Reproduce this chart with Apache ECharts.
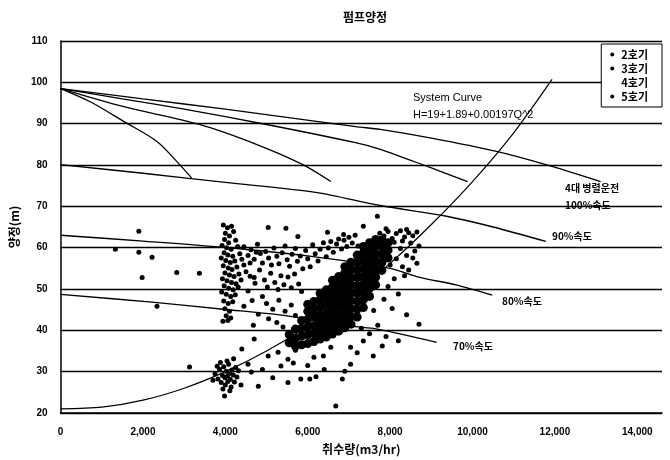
<!DOCTYPE html>
<html><head><meta charset="utf-8">
<script src="https://cdn.jsdelivr.net/npm/echarts@6/dist/echarts.min.js"></script>
<style>html,body{margin:0;padding:0;background:#fff}#c{width:670px;height:460px}</style>
</head><body><div id="c"></div>
<script>
// ---- data ----
const title = '펌프양정';
const xName = '취수량(m3/hr)';
const yName = '양정(m)';
const xTicks = [0,2000,4000,6000,8000,10000,12000,14000];
const yTicks = [20,30,40,50,60,70,80,90,100,110];
const legendNames = ['2호기','3호기','4호기','5호기'];

const pump1 = [[0,98.5],[720,95.3],[1540,90.5],[2340,85.7],[2890,80.1],[3180,76.9]];
const pump2 = [[0,98.5],[1540,94.1],[3370,89.8],[4750,85.0],[5880,80.1],[6560,76.0]];
const pump3 = [[0,98.5],[1500,96.0],[3000,93.5],[5000,89.8],[7160,85.4],[7760,83.8],[8970,79.4],[9880,76.0]];
const pump4 = [[0,98.5],[2000,96.0],[4000,93.5],[7160,89.3],[7760,88.6],[9000,86.5],[10580,83.3],[11780,80.1],[13110,76.0]];
const speed90 = [[0,80.1],[2000,78.0],[4000,75.8],[6190,73.4],[7760,70.2],[9370,67.6],[10500,65.0],[11780,61.5]];
const speed80 = [[0,63.0],[2000,61.6],[3950,60.1],[6000,58.0],[8000,55.0],[8720,52.8],[9600,51.0],[10480,48.5]];
const speed70 = [[0,48.7],[2220,46.8],[3950,45.1],[5500,43.5],[7040,41.0],[7690,40.3],[9130,37.1]];
const systemCurve = [[0,21.0],[1000,21.4],[2000,23.1],[3000,26.0],[4000,30.0],[5000,35.0],[6000,41.0],[7000,48.0],[8000,56.2],[9000,65.6],[10000,76.0],[11000,87.8],[11930,100.7]];

const pts2 = [
[3950,65.5],[4050,64.8],[4150,65.2],[4000,63.5],[4100,62.8],[4200,63.9],[3980,62],[4080,61.2],[4250,61.8],[3920,60.5],[4030,60],[4140,59.6],[4300,60.3],[3970,58.8],[4060,58.2],[4180,57.9],[4350,58.5],[3900,57.5],[4010,56.9],[4120,56.4],[4230,56.8],[4400,57.2],[3950,55.6],[4070,55.1],[4160,54.7],[4280,55.3],[4450,55.8],[3990,53.9],[4100,53.4],[4210,53],[4330,53.6],[3930,52.5],[4040,52],[4150,51.6],[4260,51.3],[4380,52.2],[3970,50.8],[4080,50.2],[4190,49.8],[4310,50.5],[3910,49.3],[4020,48.7],[4130,48.2],[4240,48.6],[3960,47.1],[4070,46.5],[4180,46.9],[3990,45.2],[4100,44.6],[4020,43.5],[4130,43],[3940,42.2],[4060,42.4],[4500,54.2],[4600,56.3],[4700,52.8],[4550,49.5],[4650,47.2],[4450,45.8],[4750,58.9],
[3750,29.5],[3820,28.2],[3860,30.6],[3900,27.4],[3930,29.1],[3960,31.2],[3990,28.5],[4000,26.8],[4020,30.1],[4050,28.9],[4060,27.6],[4080,31.8],[4100,29.6],[4120,28.1],[4140,26.3],[4160,30.4],[4190,29.2],[4220,27.5],[4250,31],[4280,28.7],[3880,32.2],[4040,32.6],[3940,25.8],[4110,25.4],[4320,30.2],[3800,31.3],[4200,33.1],[3700,27.9],[4380,26.8],[3980,24.1],
[1330,59.6],[1900,64],[1900,58.9],[2220,57.7],[1980,52.8],[2820,54],[3370,53.8],[2340,45.8],[3130,31.1]
];
const pts3 = [
[4450,60.2],[4550,58.1],[4620,59.5],[4700,57.2],[4780,60.8],[4850,58.6],[4900,56.3],[4980,59.1],[5050,57.5],[5120,55.8],[5180,59.9],[5250,57.9],[5300,56.1],[5380,58.8],[5450,60.4],[5500,57.1],[5560,55.5],[5620,58.4],[5700,59.8],[5750,56.7],[5820,58],[5880,54.9],[5950,59.3],[6000,57.3],[6060,55.4],[6120,60.7],[6180,58.5],[6250,56.8],[6300,59.6],[6380,61.2],[6450,57.8],[6500,59.9],[6560,61.5],[6620,58.9],[6700,60.9],[6750,62.1],[6820,59.7],[6880,61.8],[6950,60.3],[7000,62.5],[7080,61.1],[7150,63],[7220,60.4],[4600,53.1],[4720,51.4],[4830,54.6],[4950,52.2],[5020,50.5],[5100,53.8],[5200,51.6],[5280,49.9],[5350,53.2],[5420,51],[5520,52.9],[5600,50.3],[5680,53.6],[5780,51.2],[5850,49.4],[4900,48.2],[5000,46.5],[5150,45.1],[5300,47.3],[5450,44.6],[5600,46.1],[4800,43.9],[5050,42.8],[5250,41.9],[4680,41.2],[5700,43.6],[5400,40.8],
[5040,64.9],[5470,64.7],[5760,62.7],[6480,63.7],[6870,63.2],[7350,65.2],[7690,67.6],
[4700,37.9],[5280,34.7],[5350,31.4],[5520,33],[5650,32.1],[5830,28.2],[6050,28.2],[6150,33.5],[6380,33.8],[6560,35.9],[6840,28.2],[7040,31.8],[7040,35.9],[7350,37.4],[7590,33.8],[7810,36.2],[6680,21.7],[4630,29.9],[4800,26.5],[5520,27.4],[5040,33.8],[6200,28.8],[6400,30.5],[6000,31.5],[5700,35.2],[5900,36.5],[7200,34.6],[7500,39.2],[7900,38.5],[8200,37.5],[7700,41.2],[4900,30.5],[5150,28.5],[6900,30.1],[4400,35.5],[4550,31.8],
[7750,63.5],[7850,62.8],[7950,63.9],[8050,62.2],[8150,63.4],[8250,64.1],[8350,62.6],[8450,63.6],[8550,62.9],[8650,63.8],[8100,61.3],[8300,61.6],[8500,61.1],[7900,64.6],[8400,64.4],
[8250,59.8],[8400,58.1],[8550,57.5],[8650,56.2],[8300,55.4],[8600,59.2],[8150,57.3],[8450,54.6],[8000,55.8],[8700,60.4],[8350,53.2],[8100,52.5],[7950,50.6],[8200,48.8],[7850,47.5],[8050,45.3],[8400,43.8],[7600,44.8],[7300,40.5],[8700,41.5]
];
const pts5 = [
[5550,37],[5550,39],
[5700,36.2],[5700,38.1],[5700,40.3],
[5850,36.5],[5850,38.6],[5850,40.5],[5850,42.4],
[6000,36.8],[6000,38.9],[6000,40.8],[6000,42.7],[6000,44.6],[6000,46.3],
[6150,37.3],[6150,39.2],[6150,41.1],[6150,43.2],[6150,45.1],[6150,47.0],
[6300,37.9],[6300,39.8],[6300,41.7],[6300,43.6],[6300,45.5],[6300,47.4],[6300,49.0],
[6450,38.4],[6450,40.3],[6450,42.2],[6450,44.1],[6450,46.0],[6450,47.9],[6450,49.8],
[6600,39.1],[6600,41.0],[6600,42.9],[6600,44.8],[6600,46.7],[6600,48.6],[6600,50.5],[6600,52.1],
[6750,39.8],[6750,41.7],[6750,43.6],[6750,45.5],[6750,47.4],[6750,49.3],[6750,51.2],[6750,53.0],
[6900,40.6],[6900,42.5],[6900,44.4],[6900,46.3],[6900,48.2],[6900,50.1],[6900,52.0],[6900,53.9],[6900,55.4],
[7050,41.5],[7050,43.4],[7050,45.3],[7050,47.2],[7050,49.1],[7050,51.0],[7050,52.9],[7050,54.8],[7050,56.5],
[7200,43.2],[7200,45.1],[7200,47.0],[7200,48.9],[7200,50.8],[7200,52.7],[7200,54.6],[7200,56.5],[7200,58.2],
[7350,45.5],[7350,47.4],[7350,49.3],[7350,51.2],[7350,53.1],[7350,55.0],[7350,56.9],[7350,58.8],[7350,60.3],
[7500,48.2],[7500,50.1],[7500,52.0],[7500,53.9],[7500,55.8],[7500,57.7],[7500,59.6],[7500,61.2],
[7650,51.0],[7650,52.9],[7650,54.8],[7650,56.7],[7650,58.6],[7650,60.5],[7650,62.0],
[7800,54.5],[7800,56.4],[7800,58.3],[7800,60.2],[7800,61.8],
[7950,57.5],[7950,59.4],[7950,61.2]
];

// ---- chart ----
const chart = echarts.init(document.getElementById('c'), null, {renderer:'canvas'});
const KR = '"Noto Sans CJK KR", "Noto Sans", sans-serif';
const NUM = '"Liberation Sans Narrow","Liberation Sans",sans-serif';
const lineStyle = {color:'#000', width:1.3};
function curve(name, data){
  return {name, type:'line', data, smooth:0.3, symbol:'none', lineStyle, silent:true, z:3};
}
function fmtNum(v){ return v.toLocaleString('en-US'); }
const txt = (x,y,t,size,weight,font) => ({type:'text', left:x, top:y, style:{text:t, fill:'#000', font:(weight||'bold')+' '+(size||10)+'px '+(font||KR)}});
const dot = {color:'#000', opacity:1, borderWidth:0};

chart.setOption({
  animation:false,
  backgroundColor:'#fff',
  grid:{left:58, right:8, top:41, bottom:46},
  xAxis:{
    type:'value', min:0, max:14600, interval:2000,
    name:xName, nameLocation:'middle', nameGap:30,
    nameTextStyle:{fontFamily:KR, fontSize:12, fontWeight:'bold', color:'#000'},
    axisLine:{lineStyle:{color:'#000', width:1.5}},
    axisTick:{show:false},
    splitLine:{show:false},
    axisLabel:{color:'#000', fontSize:10, fontWeight:'bold', fontFamily:NUM, margin:14, showMaxLabel:false,
      formatter:v => xTicks.includes(v) ? fmtNum(v) : ''}
  },
  yAxis:{
    type:'value', min:20, max:110, interval:10,
    name:yName, nameLocation:'middle', nameGap:36, nameRotate:90,
    nameTextStyle:{fontFamily:KR, fontSize:12, fontWeight:'bold', color:'#000'},
    axisLine:{show:true, lineStyle:{color:'#000', width:1.5}},
    axisTick:{show:true, length:3, inside:true, lineStyle:{color:'#000'}},
    splitLine:{show:true, lineStyle:{color:'#000', width:1.3}},
    axisLabel:{color:'#000', fontSize:10, fontWeight:'bold', fontFamily:NUM, margin:13,
      formatter:v => yTicks.includes(v) ? String(v) : ''}
  },
  legend:{
    data:legendNames, orient:'vertical', right:8, top:44,
    padding:[5,14,5,9], itemGap:3, itemWidth:4, itemHeight:4,
    borderColor:'#000', borderWidth:1, backgroundColor:'#fff',
    textStyle:{fontFamily:KR, fontSize:11, fontWeight:'bold', color:'#000', padding:[0,0,0,2]},
    icon:'circle'
  },
  title:{text:title, left:338, top:6, textStyle:{fontFamily:KR, fontSize:12, fontWeight:'bold', color:'#000'}},
  series:[
    curve('p1', pump1), curve('p2', pump2), curve('p3', pump3), curve('p4', pump4),
    curve('s90', speed90), curve('s80', speed80), curve('s70', speed70),
    {name:'sys', type:'line', data:systemCurve, smooth:0.3, symbol:'none', lineStyle:{color:'#000', width:1.2}, silent:true, z:4},
    {name:'2호기', type:'scatter', data:pts2, symbolSize:5, itemStyle:dot, z:2},
    {name:'3호기', type:'scatter', data:pts3, symbolSize:5, itemStyle:dot, z:2},
    {name:'4호기', type:'scatter', data:[], symbolSize:4, itemStyle:{color:'rgba(0,0,0,0)'}, z:2},
    {name:'5호기', type:'scatter', data:pts5, symbolSize:9, itemStyle:dot, z:2}
  ],
  graphic:[
    txt(413,92,'System Curve',11,'normal','"Liberation Sans", sans-serif'),
    txt(413,109,'H=19+1.89+0.00197Q^2',11,'normal','"Liberation Sans", sans-serif'),
    txt(565,183,'4대 병렬운전',10),
    txt(565,200,'100%속도',10),
    txt(552,231,'90%속도',10),
    txt(502,296,'80%속도',10),
    txt(453,341,'70%속도',10)
  ]
});
</script>
</body></html>
